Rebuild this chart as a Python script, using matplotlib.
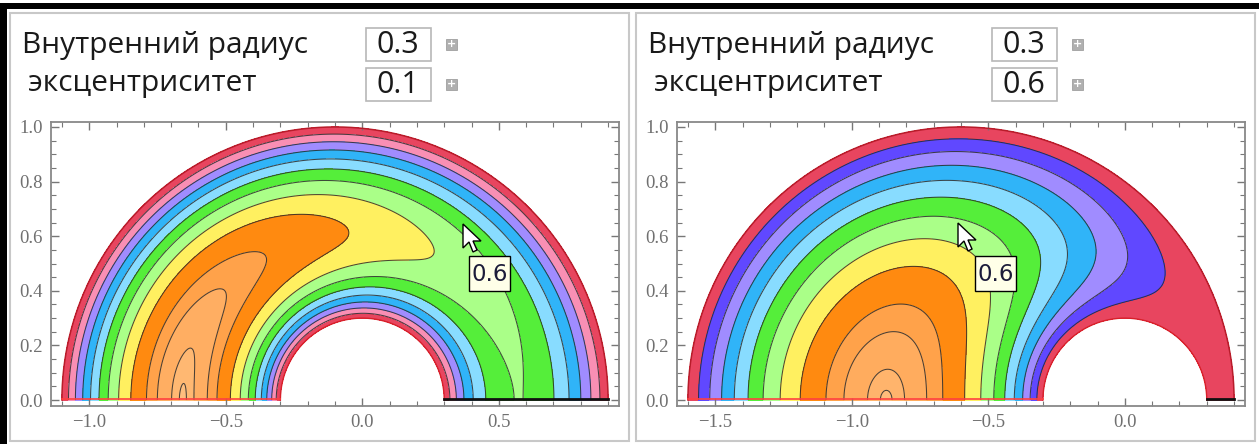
import numpy as np
import matplotlib.pyplot as plt
from matplotlib.patches import Rectangle, Polygon
from matplotlib.ticker import MultipleLocator

W, H = 1259, 444

# two states of the control panel
inner_radius = [0.3, 0.3]
eccentricity = [0.1, 0.6]
# contour levels as fractions of the peak velocity
level_frac = [0.1, 0.2, 0.3, 0.4, 0.5, 0.6, 0.7, 0.8, 0.9, 0.95, 0.99, 0.999]

colors_left = ['#E8455F', '#F98FB4', '#A08CFF', '#30B4F8', '#88DCFF', '#55EE3A',
               '#AAFF88', '#FFF060', '#FF8A10', '#FFA24A', '#FFAE62', '#FFB872', '#FFBE7E']
colors_right = ['#E8455F', '#6048FF', '#A08CFF', '#30B4F8', '#88DCFF', '#55EE3A',
                '#AAFF88', '#FFF060', '#FF8A10', '#FFA24A', '#FFAC5E', '#FFB46C', '#FFBC7A']
hover_value = ['0.6', '0.6']


def annulus_flow(ri, e, nr=300, nt=1200, nmodes=48):
    # outer wall |z + e| = 1, inner wall |z| = ri ; lap(u) = -1, u = 0 on walls
    # Moebius map to a concentric annulus rho < |w| < 1, then Fourier series
    s = 1 + e**2 - ri**2
    a = (s - np.sqrt(s**2 - 4*e**2)) / (2*e)
    rho = abs((e + ri - a) / (1 - a*(e + ri)))
    th = np.linspace(0, 2*np.pi, 512, endpoint=False)
    wb = rho*np.exp(1j*th)
    zb = (wb + a)/(1 + a*wb)
    g = -(1 - np.abs(zb)**2)/4
    c = np.fft.rfft(g).real/len(th)
    r = np.linspace(rho, 1, nr)
    t = np.linspace(0, np.pi, nt)
    R, T = np.meshgrid(r, t)
    h = c[0]*np.log(R)/np.log(rho)
    for n in range(1, nmodes):
        h += 2*c[n]*(R**n - R**-n)/(rho**n - rho**-n)*np.cos(n*T)
    w = R*np.exp(1j*T)
    zeta = (w + a)/(1 + a*w)
    u = (1 - np.abs(zeta)**2)/4 + h
    z = zeta - e
    return z.real, z.imag, u


fig = plt.figure(figsize=(W/100, H/100), dpi=100)

bg = fig.add_axes([0, 0, 1, 1], zorder=0)
bg.set_xlim(0, W); bg.set_ylim(H, 0); bg.axis('off')
fg = fig.add_axes([0, 0, 1, 1], zorder=10)
fg.set_xlim(0, W); fg.set_ylim(H, 0); fg.axis('off')
fg.patch.set_alpha(0)

# window edges
bg.add_patch(Rectangle((0, 3), W, 6, color='black', lw=0))
bg.add_patch(Rectangle((0, 3), 7, H, color='black', lw=0))


def px_axes(x0, y0, w, h):
    return fig.add_axes([x0/W, 1 - (y0 + h)/H, w/W, h/H], zorder=5)


panels_x = [10, 636]
for k in range(2):
    ri, e = inner_radius[k], eccentricity[k]
    ox = panels_x[k]
    bg.add_patch(Rectangle((ox, 13), 619, 428, facecolor='white', edgecolor='#c8c8c8', lw=1.5))

    # controls
    bg.text(ox + 12, 45, 'Внутренний радиус', fontsize=21.5, family='Open Sans',
            color='#1a1a1a', va='center')
    bg.text(ox + 18, 84, 'эксцентриситет', fontsize=21.5, family='Open Sans',
            color='#1a1a1a', va='center')
    for yy, val in [(28, ri), (68, e)]:
        bg.add_patch(Rectangle((ox + 356, yy), 65, 33, facecolor='white', edgecolor='#b8b8b8', lw=1.2))
        bg.text(ox + 388, yy + 17, f'{val:.1f}', fontsize=22, family='Open Sans',
                color='#1a1a1a', va='center', ha='center')
        bg.add_patch(Rectangle((ox + 436, yy + 11), 11, 11, facecolor='#b0b0b0', edgecolor='#a0a0a0', lw=0.6))
        bg.text(ox + 441.5, yy + 16, '+', fontsize=8, color='white', ha='center', va='center',
                fontweight='bold')

    X, Y, U = annulus_flow(ri, e)
    umax = U.max()
    levels = np.concatenate([[0], np.array(level_frac)*umax, [umax*1.01]])
    cols = (colors_left if k == 0 else colors_right)[:len(levels) - 1]

    ax = px_axes(ox + 41, 121.5, 568, 284)
    ax.contourf(X, Y, U, levels=levels, colors=cols)
    ax.contour(X, Y, U, levels=levels[1:-1], colors='#2a2a2a', linewidths=0.75, alpha=0.85)
    # walls
    ax.plot(X[:, -1], Y[:, -1], color='#b81c2a', lw=1.1)
    ax.plot(X[:, 0], Y[:, 0], color='#d8202a', lw=1.0)
    ax.plot(X[-1, :], Y[-1, :] + 0.003, color='#ff4040', lw=1.2)
    ax.plot(X[0, :], Y[0, :] + 0.004, color='#101010', lw=2.0)

    xmin, xmax = -1 - e, 1 - e
    pad = 0.02*(xmax - xmin)
    ax.set_xlim(xmin - pad, xmax + pad)
    ax.set_ylim(-0.02, 1.02)
    ax.xaxis.set_major_locator(MultipleLocator(0.5))
    ax.xaxis.set_minor_locator(MultipleLocator(0.1))
    ax.yaxis.set_major_locator(MultipleLocator(0.2))
    ax.yaxis.set_minor_locator(MultipleLocator(0.05))
    ax.tick_params(which='both', direction='in', top=True, right=True, color='#777777',
                   labelcolor='#707070', labelsize=13.5, pad=6)
    ax.tick_params(which='major', length=6, width=1)
    ax.tick_params(which='minor', length=3.5, width=0.8)
    for lab in ax.get_xticklabels() + ax.get_yticklabels():
        lab.set_family('Liberation Serif')
    for sp in ax.spines.values():
        sp.set_color('#888888')
        sp.set_linewidth(1.3)

# hover label and pointer in each panel
tips = [(463, 224), (958, 223)]
boxes = [(469, 256), (975, 256)]
arrow = np.array([(0, 0), (0, 24), (6, 18), (10, 28), (14, 26), (10, 17), (18, 17)])
for (tx, ty), (bx, by), txt in zip(tips, boxes, hover_value):
    fg.add_patch(Rectangle((bx, by), 41, 35, facecolor='#FFFFE8', edgecolor='black', lw=1))
    fg.text(bx + 20.5, by + 18, txt, fontsize=16.5, color='#1c1c3a', ha='center', va='center',
            family='DejaVu Sans')
    fg.add_patch(Polygon(arrow + [tx, ty], closed=True, facecolor='white', edgecolor='black', lw=1))

fig.savefig('out.png', dpi=100)
